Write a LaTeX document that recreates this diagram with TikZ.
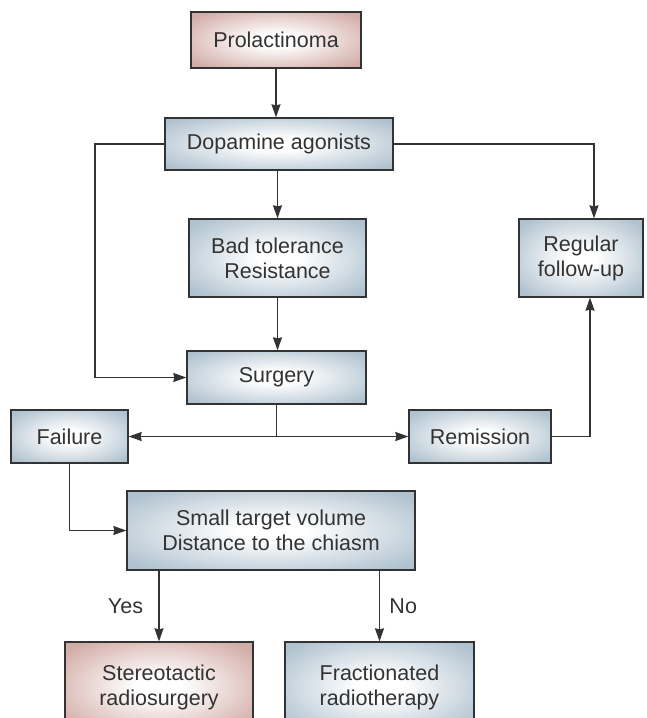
\documentclass[tikz,border=0pt]{standalone}
\usepackage{fontspec}
\setmainfont{Liberation Sans}
\usetikzlibrary{arrows.meta}
\definecolor{bluebox}{HTML}{B0C2CF}
\definecolor{pinkbox}{HTML}{D2ACA6}
\definecolor{edgec}{HTML}{333333}
\definecolor{txtc}{HTML}{333333}
\pgfdeclareradialshading{blueglow}{\pgfpoint{0bp}{0bp}}{color(0bp)=(white); color(6bp)=(white); color(32bp)=(bluebox); color(50bp)=(bluebox)}
\pgfdeclareradialshading{pinkglow}{\pgfpoint{0bp}{0bp}}{color(0bp)=(white); color(6bp)=(white); color(32bp)=(pinkbox); color(50bp)=(pinkbox)}
\tikzset{
  box/.style={draw=edgec, line width=1.3pt, shading=blueglow,
    text=txtc, font=\fontsize{21.5}{25}\selectfont, align=center, inner sep=0pt},
  pbox/.style={box, shading=pinkglow},
  conn/.style={draw=edgec, line width=1.3pt},
  arr/.style={conn, -{Stealth[length=13pt,width=9pt,inset=1pt]}},
  lab/.style={text=txtc, font=\fontsize{21.5}{25}\selectfont}
}
\begin{document}
\begin{tikzpicture}[x=1pt,y=-1pt]
\useasboundingbox (0,0) rectangle (646,718);
\clip (0,0) rectangle (646,718);
\node[pbox, minimum width=170pt, minimum height=56pt] (pro) at (276,40) {Prolactinoma};
\node[box, minimum width=228pt, minimum height=52pt] (dop) at (279,144) {Dopamine agonists};
\node[box, minimum width=177pt, minimum height=78pt] (bad) at (277.5,258) {Bad tolerance\\Resistance};
\node[box, minimum width=124pt, minimum height=78pt] (reg) at (581,258) {Regular\\follow-up};
\node[box, minimum width=179pt, minimum height=53pt] (sur) at (276.5,377.5) {Surgery};
\node[box, minimum width=117pt, minimum height=53pt] (fai) at (69.5,436.5) {Failure};
\node[box, minimum width=142pt, minimum height=53pt] (rem) at (480,436.5) {Remission};
\node[box, minimum width=288pt, minimum height=79pt] (sma) at (271,530.5) {Small target volume\\Distance to the chiasm};
\node[pbox, minimum width=188pt, minimum height=90pt] (sto) at (159,687) {Stereotactic\\radiosurgery};
\node[box, minimum width=189pt, minimum height=90pt] (fra) at (379.5,687) {Fractionated\\radiotherapy};
\coordinate (lx) at (95,0);
\draw[arr] (pro.south) -- (pro.south |- dop.north);
\draw[arr] (bad |- dop.south) -- (bad.north);
\draw[arr] (dop.west) -| (lx |- sur.west) -- (sur.west);
\draw[arr] (dop.east) -| ([xshift=13pt]reg.north);
\draw[arr] (bad.south) -- (bad.south |- sur.north);
\coordinate (j) at (sur.south |- fai.east);
\draw[conn] (sur.south) -- (j);
\draw[arr] (j) -- (fai.east);
\draw[arr] (j) -- (rem.west);
\draw[arr] (rem.east) -| ([xshift=9pt]reg.south);
\draw[arr] (fai.south) |- (sma.west);
\draw[arr] (sma.south -| sto) -- node[lab, left=12pt] {Yes} (sto.north);
\draw[arr] (sma.south -| fra) -- node[lab, right=6pt] {No} (fra.north);
\end{tikzpicture}
\end{document}
